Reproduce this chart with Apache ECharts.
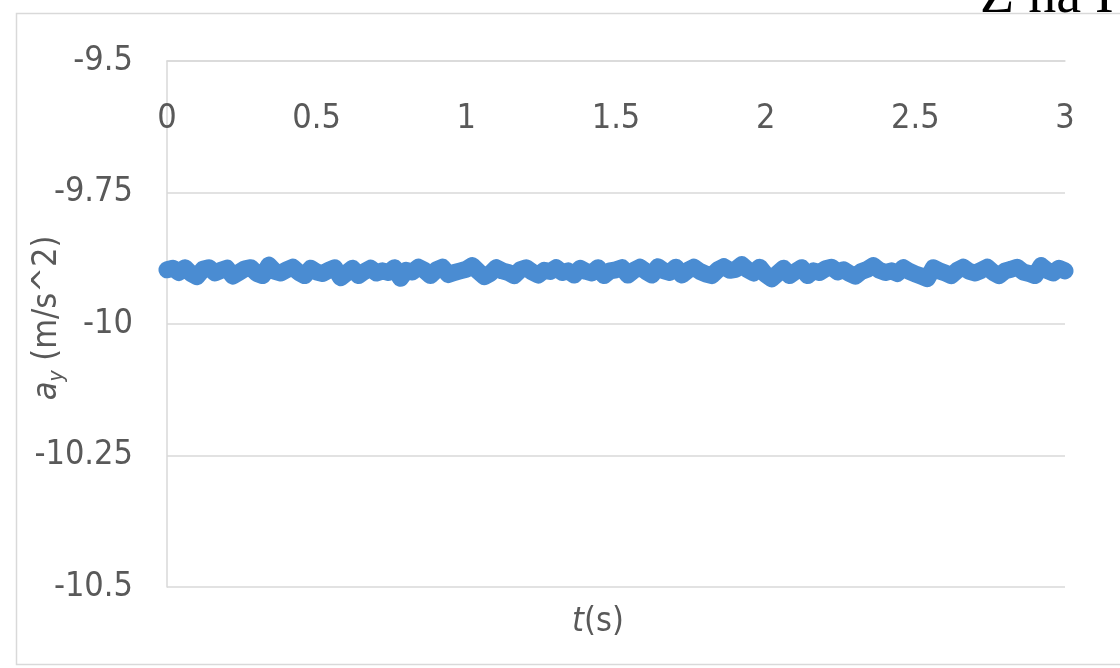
<!DOCTYPE html>
<html>
<head>
<meta charset="utf-8">
<title>a_y vs t</title>
<script src="https://cdn.jsdelivr.net/npm/echarts@6/dist/echarts.min.js"></script>
<style>
  html, body { margin: 0; padding: 0; background: #ffffff; }
  #chart { width: 1120px; height: 668px; }
</style>
</head>
<body>
<div id="chart"></div>
<script>
// Vertical acceleration samples, one every sampleStep seconds starting at t = 0
const sampleStep = 0.02;
const ayValues = [
  -9.897, -9.894, -9.902, -9.893, -9.904, -9.910, -9.896, -9.893, -9.903, -9.898,
  -9.894, -9.909, -9.902, -9.895, -9.893, -9.904, -9.908, -9.888, -9.900, -9.903,
  -9.897, -9.892, -9.902, -9.908, -9.894, -9.901, -9.904, -9.898, -9.893, -9.912,
  -9.903, -9.894, -9.908, -9.900, -9.894, -9.903, -9.899, -9.902, -9.893, -9.913,
  -9.898, -9.901, -9.892, -9.898, -9.908, -9.897, -9.892, -9.906, -9.902, -9.899,
  -9.896, -9.889, -9.900, -9.910, -9.904, -9.893, -9.899, -9.902, -9.908, -9.897,
  -9.893, -9.901, -9.907, -9.898, -9.900, -9.893, -9.902, -9.899, -9.907, -9.894,
  -9.900, -9.903, -9.893, -9.908, -9.899, -9.897, -9.893, -9.907, -9.898, -9.892,
  -9.900, -9.907, -9.891, -9.899, -9.902, -9.892, -9.907, -9.898, -9.892, -9.900,
  -9.905, -9.908, -9.897, -9.891, -9.898, -9.896, -9.887, -9.897, -9.903, -9.892,
  -9.906, -9.914, -9.904, -9.894, -9.908, -9.900, -9.893, -9.908, -9.899, -9.902,
  -9.895, -9.892, -9.901, -9.897, -9.904, -9.909, -9.900, -9.896, -9.889, -9.898,
  -9.902, -9.899, -9.904, -9.893, -9.900, -9.905, -9.909, -9.914, -9.893, -9.899,
  -9.903, -9.908, -9.898, -9.892, -9.900, -9.903, -9.898, -9.892, -9.902, -9.908,
  -9.899, -9.896, -9.892, -9.901, -9.904, -9.908, -9.889, -9.898, -9.903, -9.894,
  -9.899
];

// Axis ranges and tick spacing
const tRange = [0, 3];
const tTick = 0.5;
const ayRange = [-10.5, -9.5];
const ayTick = 0.25;

const headerText = 'Z na I';

const seriesData = ayValues.map((v, i) => [+(i * sampleStep).toFixed(2), v]);

const labelFont = "'Liberation Sans Narrow', 'DejaVu Sans Condensed', Lato, sans-serif";
const labelSize = 34;
const gridColor = '#d9d9d9';
const textColor = '#595959';

const chart = echarts.init(document.getElementById('chart'), null, { renderer: 'canvas' });

chart.setOption({
  backgroundColor: '#ffffff',
  animation: false,
  grid: { left: 167, right: 55, top: 61, bottom: 81, containLabel: false, outerBoundsMode: 'none' },
  graphic: [
    {
      type: 'rect',
      silent: true,
      shape: { x: 16.5, y: 13.5, width: 1200, height: 651 },
      style: { fill: 'none', stroke: gridColor, lineWidth: 1.5 }
    },
    {
      type: 'text',
      silent: true,
      z: 100,
      style: {
        text: headerText,
        x: 980,
        y: 25,
        font: "56px 'Liberation Serif', 'DejaVu Serif', serif",
        fill: '#000000',
        verticalAlign: 'bottom'
      }
    }
  ],
  xAxis: [
    {
      type: 'value',
      position: 'top',
      min: tRange[0],
      max: tRange[1],
      interval: tTick,
      axisLine: { show: true, lineStyle: { color: gridColor, width: 1.5 } },
      axisTick: { show: false },
      splitLine: { show: false },
      axisLabel: {
        inside: true,
        margin: 41,
        color: textColor,
        fontFamily: labelFont,
        fontSize: labelSize,
        formatter: v => String(v)
      }
    },
    {
      type: 'value',
      position: 'bottom',
      min: tRange[0],
      max: tRange[1],
      interval: tTick,
      axisLine: { show: false },
      axisTick: { show: false },
      axisLabel: { show: false },
      splitLine: { show: false },
      name: '{it|t}(s)',
      nameLocation: 'middle',
      nameGap: 18,
      nameMoveOverlap: false,
      nameTextStyle: {
        color: textColor,
        fontFamily: labelFont,
        fontSize: labelSize,
        padding: [0, 36, 0, 0],
        rich: {
          it: { fontStyle: 'italic', color: textColor, fontFamily: labelFont, fontSize: labelSize }
        }
      }
    }
  ],
  yAxis: {
    type: 'value',
    min: ayRange[0],
    max: ayRange[1],
    interval: ayTick,
    axisLine: { show: true, lineStyle: { color: gridColor, width: 1.5 } },
    axisTick: { show: false },
    splitLine: { show: true, lineStyle: { color: gridColor, width: 1.5 } },
    axisLabel: {
      margin: 34,
      color: textColor,
      fontFamily: labelFont,
      fontSize: labelSize,
      formatter: v => String(v)
    },
    name: '{it|a}{sub|y} (m/s^2)',
    nameLocation: 'middle',
    nameRotate: 90,
    nameGap: 99,
    nameMoveOverlap: false,
    nameTextStyle: {
      color: textColor,
      fontFamily: labelFont,
      fontSize: labelSize,
      padding: [0, 0, 0, 12],
      rich: {
        it: { fontStyle: 'italic', color: textColor, fontFamily: labelFont, fontSize: labelSize, lineHeight: 42, verticalAlign: 'middle' },
        sub: { fontStyle: 'italic', color: textColor, fontFamily: labelFont, fontSize: 21, lineHeight: 42, verticalAlign: 'bottom' }
      }
    }
  },
  series: [
    {
      type: 'line',
      xAxisIndex: 0,
      data: seriesData,
      showSymbol: false,
      symbol: 'none',
      smooth: false,
      lineStyle: { color: '#4a8cd2', width: 17, cap: 'round', join: 'round' },
      emphasis: { disabled: true }
    }
  ]
});
</script>
</body>
</html>
